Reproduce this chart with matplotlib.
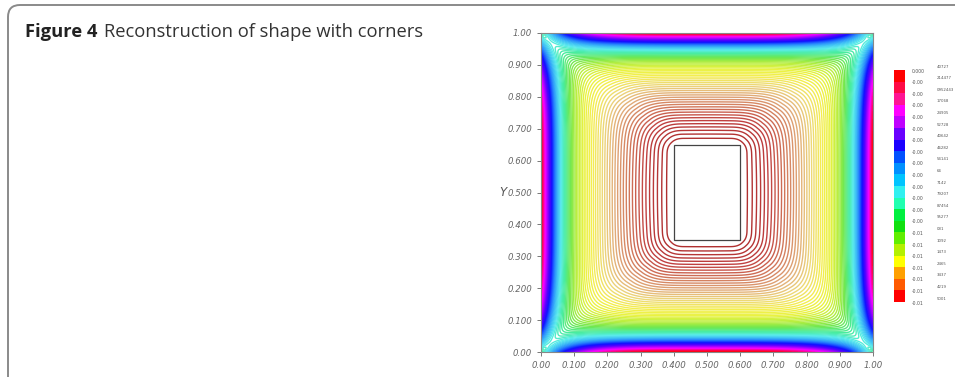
import numpy as np
import matplotlib
matplotlib.use("Agg")
import matplotlib.pyplot as plt
from matplotlib.colors import LinearSegmentedColormap
from matplotlib.patches import Rectangle, FancyBboxPatch

# ---------------- data ----------------
title_bold = "Figure 4"
title_rest = "Reconstruction of shape with corners"

x_tick_values = [0.0, 0.1, 0.2, 0.3, 0.4, 0.5, 0.6, 0.7, 0.8, 0.9, 1.0]
x_tick_labels = ["0.00", "0.100", "0.200", "0.300", "0.400", "0.500",
                 "0.600", "0.700", "0.800", "0.900", "1.00"]
y_tick_values = [0.0, 0.1, 0.2, 0.3, 0.4, 0.5, 0.6, 0.7, 0.8, 0.9, 1.0]
y_tick_labels = ["0.00", "0.100", "0.200", "0.300", "0.400", "0.500",
                 "0.600", "0.700", "0.800", "0.900", "1.00"]
y_label = "Y"

# hole (the reconstructed shape with corners)
box_x = [0.40, 0.60]
box_y = [0.35, 0.65]

# colour bar: band colours from top (highest) to bottom (lowest)
cbar_colors = ["#ff0000", "#ff0a45", "#ff1493", "#ff00ff", "#c000ff",
               "#6a00ff", "#1a00ff", "#0050ff", "#0090ff", "#00c4ff",
               "#30f0f0", "#20ffb0", "#00f040", "#10e010", "#60ee00",
               "#b4f000", "#ffff00", "#ffa000", "#ff5a00", "#ff0000"]
# colour bar labels (main part, raised tail) from top to bottom
cbar_main = ["0.000", "-0.00", "-0.00", "-0.00", "-0.00", "-0.00", "-0.00",
             "-0.00", "-0.00", "-0.00", "-0.00", "-0.00", "-0.00", "-0.00",
             "-0.01", "-0.01", "-0.01", "-0.01", "-0.01", "-0.01", "-0.01"]
cbar_tail = ["40727", "214477", "0952443", "17068", "24905", "52728", "40642",
             "46282", "54141", "64", "7142", "79207", "87454", "95277",
             "031", "1092", "1473", "2465", "3437", "4219", "5001"]
field_max = 0.00040727
field_min = -0.015001
n_lines = 90

# contour line colours, lowest level first (as seen on the plot)
line_colors = ["#b03030", "#c04040", "#d07458", "#e0a878", "#ecd67a",
               "#f4ee50", "#e8f240", "#b6ee40", "#70e850", "#48ec9c",
               "#5aecec", "#3cbcf6", "#2070ff", "#1010ff", "#5a00ff",
               "#b000ff", "#ff00ff", "#ff0080", "#ff0000"]

# ---------------- field: blend between the hole and the outer frame ----------------
n = 401
g = np.linspace(0, 1, n)
X, Y = np.meshgrid(g, g)
hx = (box_x[1] - box_x[0]) / 2
hy = (box_y[1] - box_y[0]) / 2
rr = 0.03
dx = np.maximum(np.abs(X - 0.5) - (hx - rr), 0)
dy = np.maximum(np.abs(Y - 0.5) - (hy - rr), 0)
pw = 2.0 + 2.0 * np.clip(np.maximum(dx, dy) / 0.25, 0, 1)
d_hole = np.maximum((dx ** pw + dy ** pw) ** (1 / pw) - rr, 0)
eps = 1e-9
q = 4
d_frame = ((X + eps) ** -q + (1 - X + eps) ** -q + (Y + eps) ** -q + (1 - Y + eps) ** -q) ** (-1 / q)
r = d_hole / (d_hole + d_frame)
S = 0.55 * r ** 1.4 + 0.45 * r ** 8
sx = np.abs(2 * X - 1)
sy = np.abs(2 * Y - 1)
G = 1 - 0.5 * (sx * sy) ** 4
frac = S * G
F = field_min + (field_max - field_min) * frac

# ---------------- figure ----------------
fig = plt.figure(figsize=(9.55, 3.77), dpi=100)

frame = FancyBboxPatch((0.08, -1.0), 12.0, 4.72, boxstyle="round,pad=0,rounding_size=0.12",
                       transform=fig.dpi_scale_trans, facecolor="none",
                       edgecolor="#8a8a8a", linewidth=1.4, clip_on=False)
fig.add_artist(frame)

t1 = fig.text(25 / 955, 1 - 37 / 377, title_bold, fontsize=13.2, fontweight="bold",
              family="Open Sans", color="#222222")
fig.canvas.draw()
bb = t1.get_window_extent(fig.canvas.get_renderer())
fig.text((bb.x1 + 7) / 955, 1 - 37 / 377, title_rest, fontsize=13.2,
         family="Open Sans", color="#333333")

ax = fig.add_axes([541 / 955, 1 - 352 / 377, 332 / 955, 319 / 377])
line_cmap = LinearSegmentedColormap.from_list("lines", line_colors)
levels = np.linspace(field_min, field_max, n_lines)[1:]
ax.contour(X, Y, F, levels=levels, cmap=line_cmap, linewidths=1.0)
ax.add_patch(Rectangle((box_x[0], box_y[0]), box_x[1] - box_x[0], box_y[1] - box_y[0],
                       facecolor="white", edgecolor="#444444", linewidth=0.9, zorder=5))
ax.set_xlim(0, 1); ax.set_ylim(0, 1)
ax.set_xticks(x_tick_values); ax.set_xticklabels(x_tick_labels)
ax.set_yticks(y_tick_values); ax.set_yticklabels(y_tick_labels)
ax.tick_params(labelsize=6.2, colors="#777777", length=3, width=0.7, direction="out")
for lab in ax.get_xticklabels() + ax.get_yticklabels():
    lab.set_fontstyle("italic"); lab.set_color("#666666")
for s in ax.spines.values():
    s.set_color("#888888"); s.set_linewidth(0.8)
ax.set_ylabel(y_label, rotation=0, fontsize=8.5, fontstyle="italic", color="#555555",
              labelpad=3, va="center")

# colour bar
cax = fig.add_axes([894 / 955, 1 - 302 / 377, 11 / 955, 232 / 377])
nb = len(cbar_colors)
for i, c in enumerate(cbar_colors):
    cax.add_patch(Rectangle((0, nb - 1 - i), 1, 1, facecolor=c, edgecolor="none"))
cax.set_xlim(0, 1); cax.set_ylim(0, nb)
cax.set_xticks([]); cax.set_yticks([])
for s in cax.spines.values():
    s.set_visible(False)
for i, (m, tl) in enumerate(zip(cbar_main, cbar_tail)):
    yv = nb - i
    cax.text(1.6, yv - 0.1, m, fontsize=3.3, color="#555555", va="center", ha="left",
             clip_on=False)
    cax.text(3.9, yv + 0.3, tl, fontsize=2.8, color="#555555", va="center", ha="left",
             clip_on=False)

fig.savefig("out.png", dpi=100)
